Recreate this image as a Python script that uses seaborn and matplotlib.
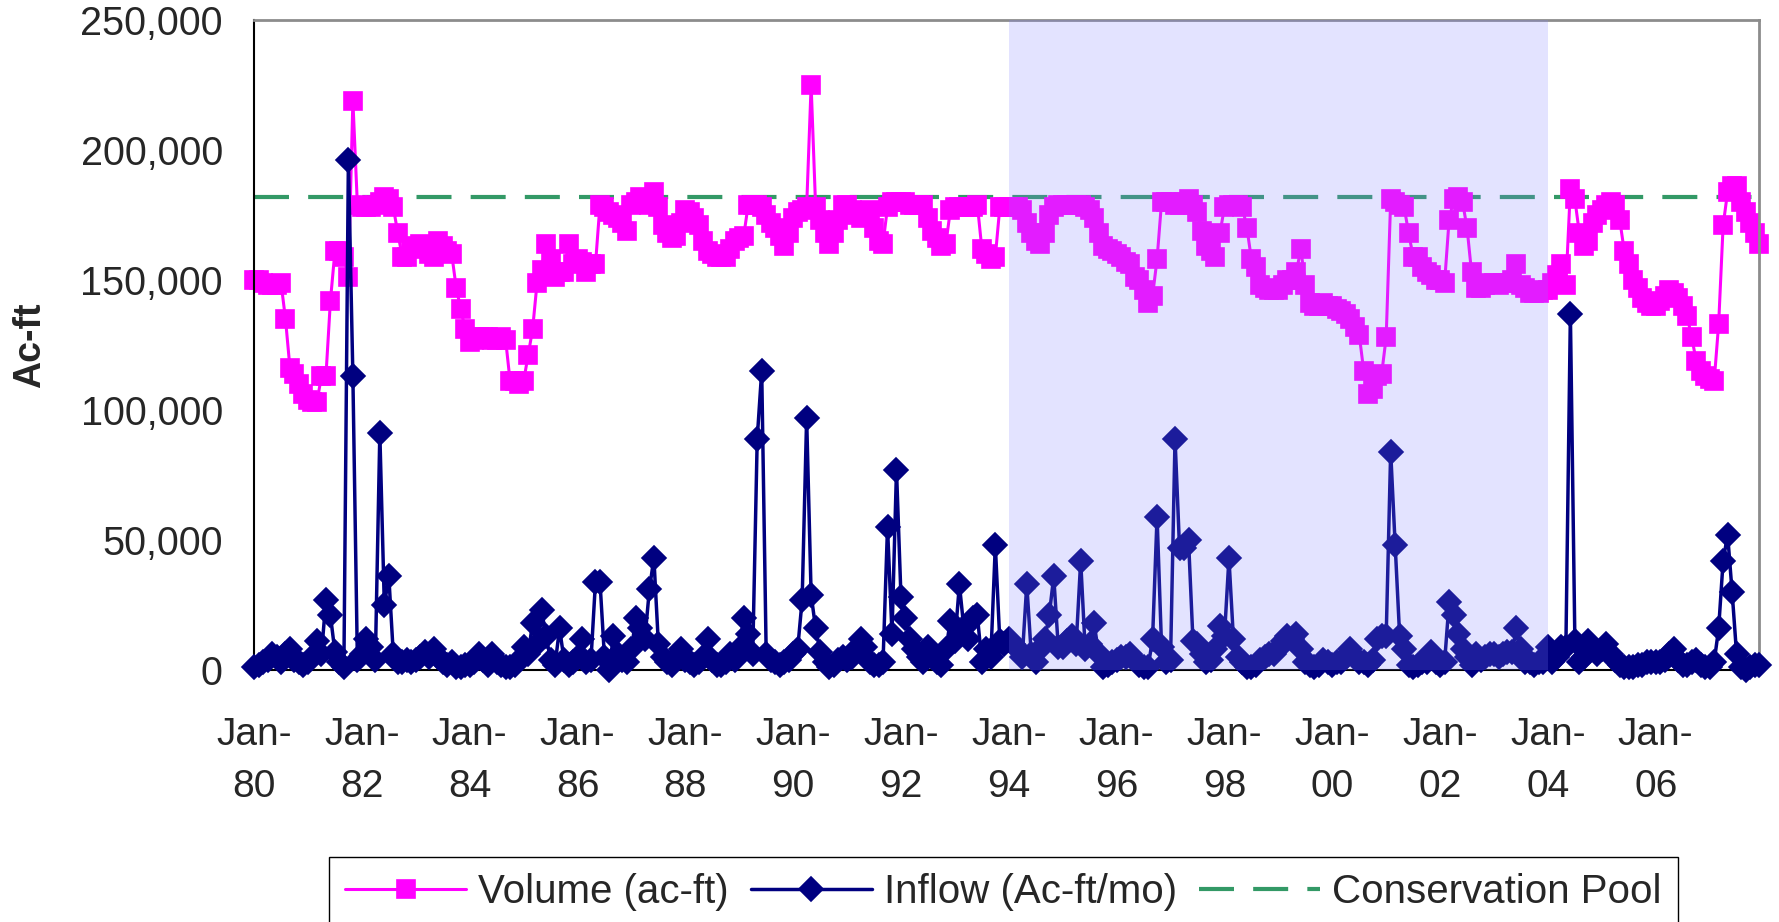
import numpy as np
import pandas as pd
import seaborn as sns
import matplotlib.pyplot as plt
from matplotlib.ticker import FuncFormatter

sns.set_theme(style='white')
plt.rcParams['font.family'] = ['Liberation Sans', 'DejaVu Sans']

# monthly values, Jan-1980 .. Dec-2007, thousands of ac-ft (one row per year)
volume_k = [
    150, 150, 149, 148, 148, 148, 149, 135, 116, 114, 110, 106,  # 1980
    104, 103, 103, 113, 113, 142, 161, 161, 159, 151, 219, 179,  # 1981
    178, 178, 178, 179, 180, 182, 181, 178, 168, 159, 159, 162,  # 1982
    163, 164, 163, 160, 159, 165, 163, 161, 160, 147, 139, 131,  # 1983
    126, 127, 128, 128, 128, 127, 127, 128, 127, 111, 111, 110,  # 1984
    111, 121, 131, 149, 154, 164, 158, 151, 153, 153, 164, 156,  # 1985
    158, 157, 153, 156, 156, 179, 178, 176, 175, 174, 172, 169,  # 1986
    179, 180, 182, 180, 179, 184, 178, 171, 168, 166, 167, 172,  # 1987
    177, 176, 174, 171, 165, 161, 160, 159, 159, 159, 162, 165,  # 1988
    166, 167, 179, 179, 179, 178, 175, 172, 170, 167, 163, 168,  # 1989
    174, 176, 177, 178, 225, 178, 173, 168, 164, 168, 173, 179,  # 1990
    179, 177, 175, 174, 176, 177, 170, 165, 164, 178, 180, 180,  # 1991
    180, 180, 179, 179, 179, 179, 174, 169, 166, 163, 164, 177,  # 1992
    178, 178, 178, 178, 178, 179, 162, 160, 158, 159, 178, 178,  # 1993
    178, 178, 178, 177, 172, 168, 165, 164, 168, 175, 178, 179,  # 1994
    179, 179, 179, 179, 179, 178, 177, 174, 168, 163, 162, 161,  # 1995
    160, 159, 157, 156, 151, 150, 146, 141, 144, 158, 180, 180,  # 1996
    180, 179, 179, 180, 181, 179, 176, 169, 163, 161, 159, 168,  # 1997
    178, 179, 179, 179, 178, 170, 158, 155, 148, 147, 146, 146,  # 1998
    146, 148, 150, 150, 153, 162, 148, 141, 140, 140, 141, 140,  # 1999
    140, 139, 138, 137, 135, 132, 129, 115, 106, 108, 113, 114,  # 2000
    128, 181, 180, 179, 178, 168, 159, 159, 155, 153, 152, 150,  # 2001
    150, 149, 173, 181, 182, 180, 170, 153, 147, 147, 148, 149,  # 2002
    149, 148, 149, 149, 150, 156, 148, 147, 145, 145, 145, 146,  # 2003
    146, 149, 152, 156, 148, 185, 181, 168, 163, 165, 172, 175,  # 2004
    177, 179, 180, 179, 173, 161, 156, 150, 147, 143, 141, 140,  # 2005
    140, 142, 144, 146, 145, 143, 140, 136, 128, 119, 115, 113,  # 2006
    112, 111, 133, 171, 184, 186, 186, 180, 176, 172, 168, 164,  # 2007
]

inflow_k = [
    1, 2, 3, 4, 6, 5, 3, 6, 8, 4, 3, 2,            # 1980
    3, 5, 11, 6, 27, 21, 7, 3, 1, 196, 113, 4,     # 1981
    6, 12, 9, 4, 91, 25, 36, 6, 3, 3, 4, 3,        # 1982
    4, 5, 7, 5, 8, 5, 3, 2, 3, 1, 1, 2,            # 1983
    2, 3, 6, 4, 2, 6, 3, 2, 1, 1, 2, 4,            # 1984
    9, 6, 18, 10, 23, 13, 4, 2, 16, 4, 2, 3,       # 1985
    5, 12, 3, 4, 34, 34, 5, 0, 13, 6, 4, 3,        # 1986
    8, 20, 16, 12, 31, 43, 10, 5, 3, 2, 5, 8,      # 1987
    4, 3, 2, 3, 5, 12, 4, 2, 2, 3, 6, 4,           # 1988
    8, 20, 14, 6, 89, 115, 6, 4, 3, 2, 3, 4,       # 1989
    6, 8, 27, 97, 29, 16, 7, 3, 1, 2, 4, 5,        # 1990
    4, 5, 8, 12, 9, 3, 2, 2, 3, 55, 14, 77,        # 1991
    28, 20, 12, 8, 5, 3, 9, 5, 3, 2, 8, 19,        # 1992
    11, 33, 16, 12, 20, 21, 3, 8, 5, 48, 11, 10,   # 1993
    12, 10, 8, 5, 33, 6, 3, 8, 12, 21, 36, 9,      # 1994
    9, 11, 13, 10, 42, 8, 10, 18, 6, 1, 2, 3,      # 1995
    4, 5, 5, 6, 4, 2, 1, 1, 12, 59, 9, 3,          # 1996
    4, 89, 47, 47, 50, 11, 10, 6, 3, 4, 8, 17,     # 1997
    13, 43, 12, 5, 3, 1, 1, 2, 4, 5, 6, 6,         # 1998
    8, 11, 13, 12, 14, 8, 3, 2, 1, 2, 4, 3,        # 1999
    2, 3, 3, 5, 8, 5, 3, 3, 2, 4, 12, 13,          # 2000
    13, 84, 48, 13, 8, 2, 1, 2, 3, 3, 7, 3,        # 2001
    2, 3, 26, 21, 14, 8, 5, 2, 6, 4, 5, 6,         # 2002
    6, 5, 6, 7, 7, 16, 8, 3, 3, 2, 3, 3,           # 2003
    9, 3, 5, 9, 9, 137, 11, 3, 5, 11, 8, 6,        # 2004
    8, 10, 6, 4, 2, 1, 1, 1, 2, 2, 3, 3,           # 2005
    3, 3, 4, 6, 8, 4, 2, 2, 3, 4, 2, 1,            # 2006
    1, 3, 16, 42, 52, 30, 6, 1, 0, 1, 2, 2,        # 2007
]

conservation_pool = 182000
shade_start, shade_end = 'Jan-94', 'Jan-04'
tick_years = list(range(1980, 2008, 2))
tick_labels = ['Jan-\n%02d' % (y % 100) for y in tick_years]

df = pd.DataFrame({
    'month': np.arange(len(volume_k)),
    'volume': np.array(volume_k) * 1000,
    'inflow': np.array(inflow_k) * 1000,
})
month_of = {lab.replace('\n', ''): 12 * (y - 1980) for lab, y in zip(tick_labels, tick_years)}

fig = plt.figure(figsize=(17.79, 9.22), dpi=100)
ax = fig.add_axes([0.1428, 0.2733, 0.846, 0.705])

ax.axhline(conservation_pool, color='#339966', lw=3, dashes=(8.4, 4.6), zorder=1)
sns.lineplot(data=df, x='month', y='volume', ax=ax, color='#FF00FF', lw=2.2,
             marker='s', markersize=13.5, markeredgewidth=1.2, markeredgecolor='#FF00FF',
             clip_on=False, zorder=2, legend=False)
sns.lineplot(data=df, x='month', y='inflow', ax=ax, color='#000080', lw=2.5,
             marker='D', markersize=12.5, markeredgewidth=1.2, markeredgecolor='#000080',
             clip_on=False, zorder=3, legend=False)
ax.axvspan(month_of[shade_start], month_of[shade_end], color=(0.5, 0.5, 1.0),
           alpha=0.22, lw=0, zorder=5)

ax.set_xlim(0, len(volume_k) - 1)
ax.set_ylim(0, 250000)
ax.set_xticks([month_of[l.replace('\n', '')] for l in tick_labels])
ax.set_xticklabels(tick_labels, linespacing=1.55)
ax.set_xticks(df.month, minor=True)
ax.set_yticks(range(0, 250001, 50000))
ax.yaxis.set_major_formatter(FuncFormatter(lambda v, p: f'{v:,.0f}'))
ax.tick_params(axis='x', which='both', direction='inout', length=12, width=1,
               color='black', labelsize=28, pad=28)
ax.tick_params(axis='y', direction='inout', length=17, width=1,
               color='black', labelsize=28.5, pad=14)
ax.set_xlabel('')
ax.set_ylabel('Ac-ft', fontsize=27, fontweight='bold')
ax.yaxis.set_label_coords(-0.137, 0.5)

for side in ['left', 'bottom']:
    ax.spines[side].set_color('black')
    ax.spines[side].set_linewidth(1.5)
for side in ['top', 'right']:
    ax.spines[side].set_color('#8c8c8c')
    ax.spines[side].set_linewidth(2)

handles = [ax.lines[1], ax.lines[2], ax.lines[0]]
labels = ['Volume (ac-ft)', 'Inflow (Ac-ft/mo)', 'Conservation Pool']
leg = fig.legend(handles, labels, loc='upper left',
                 bbox_to_anchor=(329 / 1779, 1 - 857 / 922), ncol=3,
                 fontsize=29, frameon=True, fancybox=False, edgecolor='black',
                 handlelength=3.0, handletextpad=0.3, columnspacing=0.55,
                 borderpad=0.4, borderaxespad=0, numpoints=1, framealpha=1)
leg.get_frame().set_linewidth(1)

fig.savefig('out.png', dpi=100)
